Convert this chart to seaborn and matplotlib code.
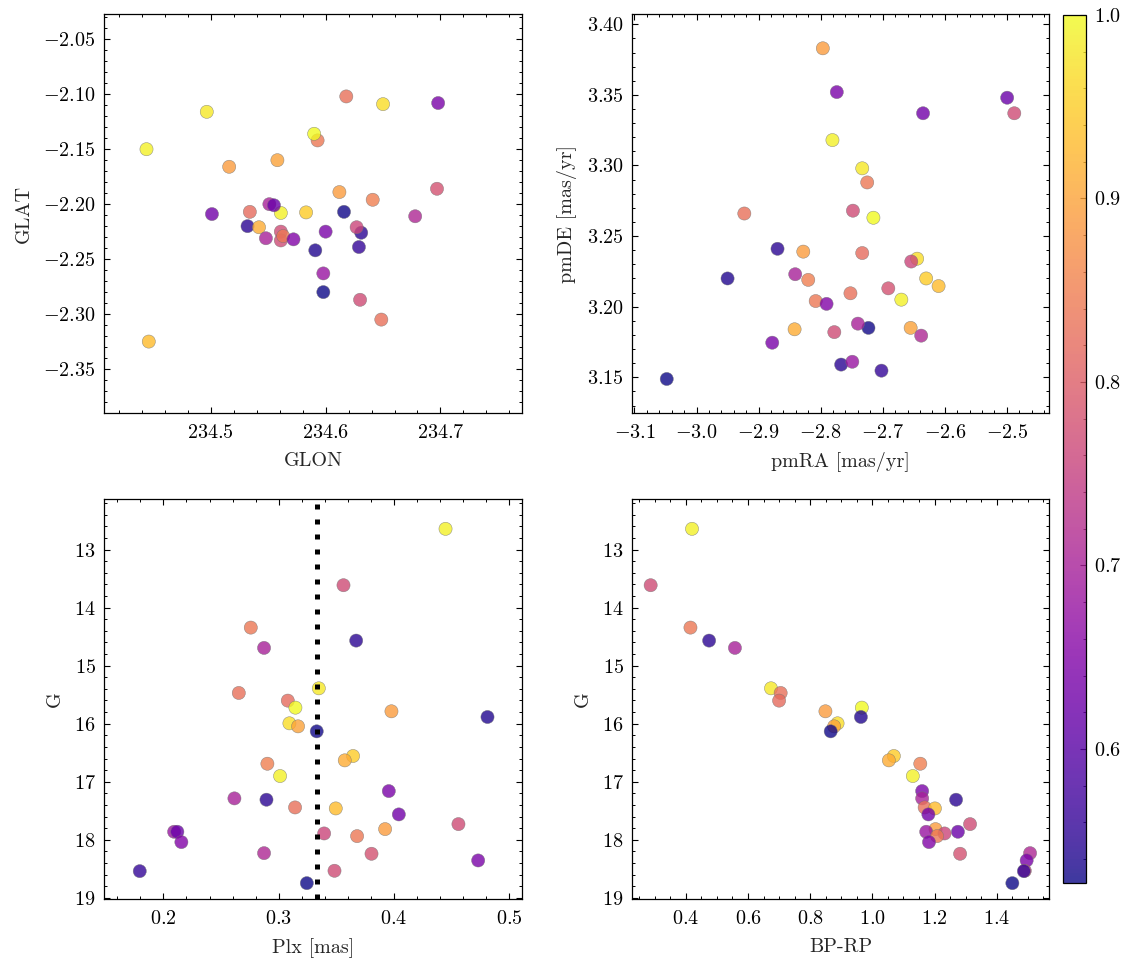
import matplotlib
matplotlib.use("Agg")
import matplotlib.pyplot as plt
from matplotlib.ticker import MultipleLocator, AutoMinorLocator
import pandas as pd
import seaborn as sns

# 별 37개 - 모든 패널에서 같은 순서
prob = [0.99, 0.77, 0.84, 0.55, 0.70, 0.98, 0.83, 0.82, 1.00, 0.89,
        0.54, 0.97, 0.90, 0.53, 0.95, 0.91, 0.85, 0.99, 0.64, 0.70,
        0.55, 0.83, 0.93, 0.63, 0.77, 0.89, 0.68, 0.62, 0.76, 0.84,
        0.65, 0.71, 0.78, 0.64, 0.77, 0.56, 0.527]

glon = [234.444, 234.561, 234.593, 234.532, 234.551, 234.4965, 234.618, 234.534, 234.590, 234.516,
        234.591, 234.650, 234.558, 234.616, 234.583, 234.542, 234.641, 234.561, 234.698, 234.548,
        234.631, 234.6485, 234.446, 234.501, 234.561, 234.612, 234.598, 234.555, 234.627, 234.563,
        234.572, 234.678, 234.697, 234.600, 234.630, 234.629, 234.598]
glat = [-2.150, -2.225, -2.142, -2.220, -2.200, -2.116, -2.102, -2.207, -2.136, -2.166,
        -2.242, -2.109, -2.160, -2.207, -2.2075, -2.221, -2.196, -2.208, -2.108, -2.231,
        -2.226, -2.305, -2.325, -2.209, -2.233, -2.189, -2.263, -2.201, -2.221, -2.229,
        -2.232, -2.211, -2.186, -2.225, -2.287, -2.239, -2.280]

pmra = [-2.781, -2.488, -2.725, -2.8695, -2.841, -2.733, -2.923, -2.733, -2.715, -2.7965,
        -2.950, -2.6445, -2.655, -2.723, -2.630, -2.842, -2.820, -2.670, -2.774, -2.740,
        -2.767, -2.752, -2.610, -2.635, -2.748, -2.828, -2.749, -2.4995, -2.654, -2.808,
        -2.7905, -2.638, -2.691, -2.878, -2.778, -2.702, -3.048]
pmde = [3.318, 3.337, 3.288, 3.241, 3.223, 3.298, 3.266, 3.238, 3.263, 3.383,
        3.220, 3.234, 3.185, 3.185, 3.220, 3.184, 3.219, 3.205, 3.352, 3.188,
        3.159, 3.2095, 3.2146, 3.337, 3.268, 3.239, 3.161, 3.348, 3.232, 3.204,
        3.202, 3.1795, 3.213, 3.1745, 3.182, 3.1547, 3.1488]

plx = [0.4447, 0.3562, 0.2758, 0.3672, 0.2873, 0.3348, 0.2654, 0.3079, 0.3145, 0.3978,
       0.4811, 0.3093, 0.3168, 0.3330, 0.3645, 0.3573, 0.2902, 0.3012, 0.3955, 0.2616,
       0.2894, 0.3142, 0.3495, 0.4042, 0.4559, 0.3923, 0.2093, 0.2121, 0.3394, 0.3680,
       0.2156, 0.2873, 0.3805, 0.4730, 0.3484, 0.1795, 0.3244]
gmag = [12.644, 13.615, 14.345, 14.569, 14.695, 15.391, 15.471, 15.603, 15.724, 15.787,
        15.885, 15.994, 16.046, 16.132, 16.557, 16.632, 16.690, 16.902, 17.161, 17.287,
        17.310, 17.443, 17.460, 17.563, 17.730, 17.816, 17.862, 17.862, 17.891, 17.937,
        18.040, 18.230, 18.241, 18.356, 18.534, 18.540, 18.747]
bprp = [0.420, 0.287, 0.415, 0.475, 0.558, 0.674, 0.705, 0.700, 0.966, 0.849,
        0.963, 0.888, 0.877, 0.866, 1.069, 1.053, 1.154, 1.130, 1.160, 1.160,
        1.269, 1.168, 1.201, 1.180, 1.314, 1.203, 1.173, 1.275, 1.232, 1.208,
        1.182, 1.507, 1.282, 1.496, 1.490, 1.487, 1.450]

plx_line = 0.333

df = pd.DataFrame({"GLON": glon, "GLAT": glat, "pmRA": pmra, "pmDE": pmde,
                   "Plx": plx, "G": gmag, "BPRP": bprp, "prob": prob})

sns.set_style("ticks")
plt.rcParams.update({
    "font.family": "serif",
    "font.serif": ["cmr10"],
    "mathtext.fontset": "cm",
    "axes.formatter.use_mathtext": True,
    "font.size": 14.5,
    "axes.labelpad": 7,
    "axes.linewidth": 0.9,
    "axes.edgecolor": "black",
    "xtick.direction": "in",
    "ytick.direction": "in",
    "xtick.top": True,
    "ytick.right": True,
    "xtick.minor.visible": True,
    "ytick.minor.visible": True,
    "xtick.major.size": 4.5,
    "ytick.major.size": 4.5,
    "xtick.minor.size": 2.3,
    "ytick.minor.size": 2.3,
    "xtick.major.width": 0.8,
    "ytick.major.width": 0.8,
    "xtick.minor.width": 0.7,
    "ytick.minor.width": 0.7,
    "xtick.major.pad": 8,
    "ytick.major.pad": 6,
    "xtick.color": "black",
    "ytick.color": "black",
})

vmin, vmax = min(prob), max(prob)

fig = plt.figure(figsize=(11.33, 9.65), dpi=100)
ax1 = fig.add_axes([0.0918, 0.572, 0.3689, 0.4135])
ax2 = fig.add_axes([0.5578, 0.572, 0.3681, 0.4135])
ax3 = fig.add_axes([0.0918, 0.0684, 0.3689, 0.4145])
ax4 = fig.add_axes([0.5578, 0.0684, 0.3681, 0.4145])
cax = fig.add_axes([0.9382, 0.085, 0.0203, 0.8995])

kw = dict(hue="prob", palette="plasma", hue_norm=(vmin, vmax), s=90,
          alpha=0.8, edgecolor="0.45", linewidth=0.35, legend=False)

sns.scatterplot(data=df, x="GLON", y="GLAT", ax=ax1, **kw)
ax1.set_xlim(234.407, 234.771)
ax1.set_ylim(-2.390, -2.027)
ax1.xaxis.set_major_locator(MultipleLocator(0.1))
ax1.yaxis.set_major_locator(MultipleLocator(0.05))
ax1.set_xlabel("GLON")
ax1.set_ylabel("GLAT")

sns.scatterplot(data=df, x="pmRA", y="pmDE", ax=ax2, **kw)
ax2.set_xlim(-3.104, -2.432)
ax2.set_ylim(3.1247, 3.4073)
ax2.xaxis.set_major_locator(MultipleLocator(0.1))
ax2.yaxis.set_major_locator(MultipleLocator(0.05))
ax2.set_xlabel("pmRA [mas/yr]")
ax2.set_ylabel("pmDE [mas/yr]")

sns.scatterplot(data=df, x="Plx", y="G", ax=ax3, **kw)
ax3.axvline(plx_line, color="black", lw=3.6, ls=(0, (1, 2)))
ax3.set_xlim(0.1485, 0.511)
ax3.set_ylim(19.02, 12.13)
ax3.xaxis.set_major_locator(MultipleLocator(0.1))
ax3.yaxis.set_major_locator(MultipleLocator(1))
ax3.set_xlabel("Plx [mas]")
ax3.set_ylabel("G")

sns.scatterplot(data=df, x="BPRP", y="G", ax=ax4, **kw)
ax4.set_xlim(0.227, 1.568)
ax4.set_ylim(19.02, 12.13)
ax4.xaxis.set_major_locator(MultipleLocator(0.2))
ax4.yaxis.set_major_locator(MultipleLocator(1))
ax4.set_xlabel("BP-RP")
ax4.set_ylabel("G")

for ax in (ax1, ax2, ax3, ax4):
    ax.xaxis.set_minor_locator(AutoMinorLocator())
    ax.yaxis.set_minor_locator(AutoMinorLocator())

sm = plt.cm.ScalarMappable(cmap="plasma", norm=plt.Normalize(vmin, vmax))
sm.set_array([])
cb = fig.colorbar(sm, cax=cax, alpha=0.8)
cb.set_ticks([0.6, 0.7, 0.8, 0.9, 1.0])
cax.yaxis.set_minor_locator(MultipleLocator(0.02))
cax.tick_params(which="both", direction="in")
cb.outline.set_linewidth(0.9)

fig.savefig("out.png", dpi=100)
